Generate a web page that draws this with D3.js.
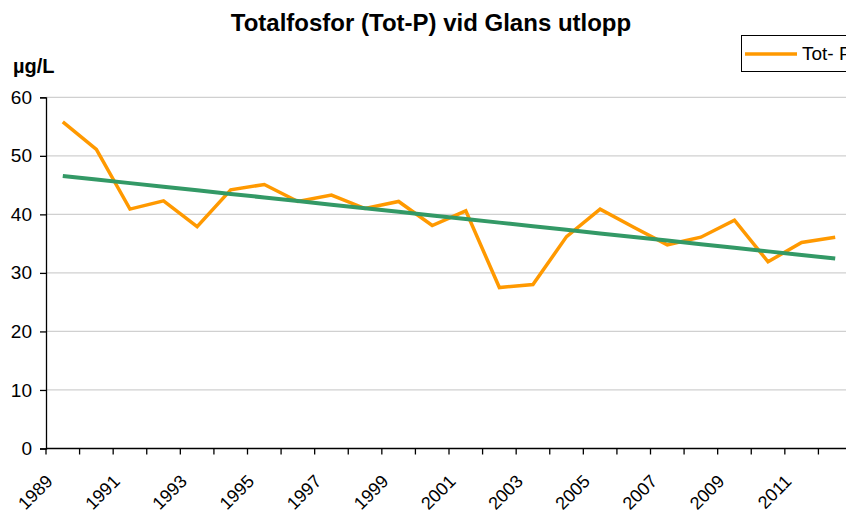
<!DOCTYPE html>
<html lang="sv">
<head>
<meta charset="UTF-8">
<title>Totalfosfor</title>
<script src="https://d3js.org/d3.v7.min.js"></script>
<style>
  body { margin: 0; background: #fff; }
  svg { font-family: "Liberation Sans", Arial, sans-serif; display: block; }
  .grid line { stroke: #d0d0d0; stroke-width: 1.3; }
</style>
</head>
<body>
<script>
const years = d3.range(1989, 2013).map(String)
const totP = [55.8, 51.1, 40.9, 42.3, 37.9, 44.2, 45.1, 42.2, 43.3, 41.0, 42.2, 38.1,
              40.6, 27.5, 28.0, 36.2, 40.9, 37.8, 34.8, 36.1, 39.0, 31.9, 35.2, 36.1]
const yTicks = [0, 10, 20, 30, 40, 50, 60]

const width = 846, height = 513
const plotL = 46, plotR = 852, plotT = 97.3, plotB = 448.5

const svg = d3.select("body").append("svg")
    .attr("width", width)
    .attr("height", height)

const x = d3.scaleBand().domain(years).range([plotL, plotR])
const y = d3.scaleLinear().domain([0, 60]).range([plotB, plotT])
const cx = d => x(d) + x.bandwidth() / 2

// gridlines
svg.append("g").attr("class", "grid")
  .selectAll("line").data(yTicks.filter(d => d > 0)).enter().append("line")
    .attr("x1", plotL).attr("x2", plotR)
    .attr("y1", d => y(d)).attr("y2", d => y(d))

// y axis
const yAxis = svg.append("g")
    .attr("transform", "translate(" + plotL + ",0)")
    .call(d3.axisLeft(y).tickValues(yTicks).tickSize(6).tickPadding(8))
yAxis.select(".domain").attr("stroke", "#000").attr("stroke-width", 1.3)
yAxis.selectAll(".tick line").attr("stroke", "#000").attr("stroke-width", 1.3)
yAxis.selectAll("text").attr("font-size", 19).attr("fill", "#000")
  .attr("font-family", "Liberation Sans, Arial, sans-serif")

// x axis, ticks on category boundaries
const xg = svg.append("g").attr("transform", "translate(0," + plotB + ")")
xg.append("line").attr("x1", plotL).attr("x2", plotR).attr("stroke", "#000").attr("stroke-width", 1.3)
xg.selectAll(".tk").data(years).enter().append("line")
    .attr("class", "tk")
    .attr("x1", d => x(d)).attr("x2", d => x(d))
    .attr("y1", 0).attr("y2", 6)
    .attr("stroke", "#000").attr("stroke-width", 1.3)
xg.selectAll("text").data(years.filter((d, i) => i % 2 === 0)).enter().append("text")
    .attr("transform", d => "translate(" + (cx(d) - 9) + ",34) rotate(-45)")
    .attr("text-anchor", "end")
    .attr("font-size", 18)
    .text(d => d)

// trend line (least squares)
const n = totP.length
const xs = d3.range(n)
const mx = d3.mean(xs), my = d3.mean(totP)
const slope = d3.sum(xs, i => (i - mx) * (totP[i] - my)) / d3.sum(xs, i => (i - mx) * (i - mx))
const icpt = my - slope * mx
const trend = xs.map(i => icpt + slope * i)

const line = d3.line().x((d, i) => cx(years[i])).y(d => y(d))

svg.append("path")
    .attr("d", line(totP))
    .attr("fill", "none")
    .attr("stroke", "#ff9900")
    .attr("stroke-width", 3.5)
    .attr("stroke-linejoin", "miter")

svg.append("path")
    .attr("d", line(trend))
    .attr("fill", "none")
    .attr("stroke", "#339966")
    .attr("stroke-width", 4)

// title and unit
svg.append("text")
    .attr("x", 431).attr("y", 31)
    .attr("text-anchor", "middle")
    .attr("font-size", 24).attr("font-weight", "bold")
    .text("Totalfosfor (Tot-P) vid Glans utlopp")

svg.append("text")
    .attr("x", 13).attr("y", 73)
    .attr("font-size", 20).attr("font-weight", "bold")
    .text("µg/L")

// legend (clipped by the page edge)
const lg = svg.append("g")
lg.append("rect")
    .attr("x", 741.5).attr("y", 35.5).attr("width", 140).attr("height", 36)
    .attr("fill", "#fff").attr("stroke", "#000").attr("stroke-width", 1)
lg.append("line")
    .attr("x1", 745).attr("x2", 797).attr("y1", 54).attr("y2", 54)
    .attr("stroke", "#ff9900").attr("stroke-width", 3.5)
lg.append("text")
    .attr("x", 802).attr("y", 60)
    .attr("font-size", 19)
    .text("Tot- P")
</script>
</body>
</html>
